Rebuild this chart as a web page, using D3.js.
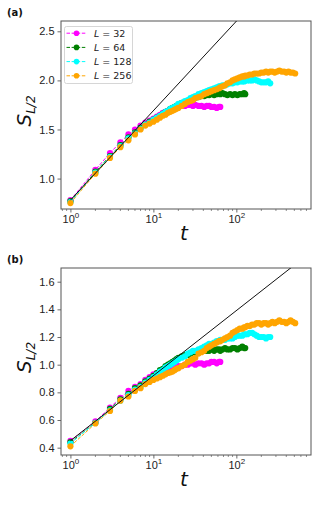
<!DOCTYPE html>
<html>
<head>
<meta charset="utf-8">
<script src="https://cdn.jsdelivr.net/npm/d3@7"></script>
<style>
  body { margin: 0; background: #fff; }
  svg { font-family: "DejaVu Sans", sans-serif; }
</style>
</head>
<body>
<svg id="chart" width="323" height="506"></svg>
<script>
// time steps shared by all series; each L uses the steps up to t = 2L
const tSteps = [1,2,3,4,5,6,7,8,9,10,11,12,13,14,15,16,17,18,19,20,
  22,24,26,28,30,32,35,38,41,44,47,50,54,58,62,64,
  68,73,78,84,90,96,103,110,118,124,128,
  136,145,155,165,176,188,200,214,228,242,256,
  272,290,310,330,352,376,400,425,450,480,512];

const sizes = [32, 64, 128, 256];
const colors = ['#ff00ff', '#008000', '#00ffff', '#ffa500'];

// panel (a)
const a32 = [0.78,1.09,1.26,1.37,1.45,1.50,1.54,1.57,1.59,1.61,1.63,1.65,1.67,1.68,1.69,1.70,1.71,1.72,1.72,1.73,
  1.74,1.74,1.75,1.75,1.74,1.75,1.74,1.74,1.73,1.74,1.74,1.73,1.73,1.72,1.73,1.73];
const a64 = [0.77,1.07,1.23,1.34,1.42,1.47,1.52,1.55,1.58,1.60,1.62,1.64,1.66,1.68,1.69,1.71,1.72,1.73,1.74,1.75,
  1.77,1.78,1.79,1.80,1.81,1.82,1.83,1.84,1.84,1.85,1.85,1.86,1.85,1.86,1.87,1.86,
  1.87,1.86,1.85,1.86,1.85,1.86,1.85,1.86,1.86,1.87,1.86];
const a128 = [0.76,1.06,1.22,1.33,1.41,1.46,1.51,1.55,1.57,1.60,1.62,1.64,1.66,1.68,1.69,1.71,1.72,1.73,1.74,1.76,
  1.77,1.79,1.80,1.82,1.83,1.84,1.86,1.87,1.88,1.89,1.90,1.91,1.92,1.93,1.94,1.94,
  1.95,1.95,1.96,1.97,1.97,1.98,1.98,1.99,1.99,1.99,2.00,
  2.00,2.00,2.00,2.01,2.00,1.99,1.98,1.98,1.98,1.99,1.97];
const a256 = [0.75,1.05,1.21,1.32,1.39,1.45,1.50,1.54,1.56,1.58,1.60,1.62,1.64,1.65,1.67,1.68,1.69,1.70,1.71,1.72,
  1.74,1.76,1.78,1.79,1.80,1.82,1.83,1.84,1.86,1.87,1.88,1.89,1.90,1.91,1.92,1.93,
  1.94,1.95,1.97,1.98,2.00,2.01,2.02,2.03,2.04,2.04,2.05,
  2.05,2.06,2.06,2.07,2.07,2.07,2.08,2.08,2.09,2.08,2.09,
  2.09,2.08,2.09,2.10,2.09,2.09,2.08,2.09,2.08,2.08,2.07];

// panel (b)
const b32 = [0.45,0.59,0.69,0.76,0.81,0.84,0.86,0.89,0.91,0.93,0.94,0.95,0.96,0.97,0.98,0.98,0.99,0.99,0.99,0.99,
  0.99,1.00,1.00,1.01,1.01,1.00,1.01,1.01,1.00,1.01,1.01,1.02,1.02,1.01,1.02,1.02];
const b64 = [0.44,0.58,0.68,0.75,0.79,0.83,0.85,0.88,0.90,0.92,0.94,0.96,0.97,0.99,1.00,1.01,1.02,1.03,1.04,1.05,
  1.06,1.07,1.07,1.08,1.09,1.09,1.10,1.10,1.10,1.10,1.10,1.11,1.10,1.11,1.11,1.10,
  1.11,1.12,1.11,1.11,1.12,1.12,1.11,1.12,1.13,1.12,1.12];
const b128 = [0.43,0.58,0.67,0.74,0.78,0.82,0.84,0.87,0.89,0.91,0.93,0.95,0.96,0.98,0.99,1.00,1.01,1.02,1.03,1.04,
  1.05,1.06,1.08,1.09,1.10,1.10,1.11,1.12,1.13,1.14,1.15,1.15,1.16,1.17,1.17,1.18,
  1.18,1.18,1.19,1.19,1.19,1.20,1.21,1.21,1.21,1.22,1.22,
  1.22,1.23,1.23,1.22,1.21,1.20,1.20,1.20,1.19,1.20,1.20];
const b256 = [0.41,0.575,0.665,0.74,0.77,0.81,0.83,0.86,0.875,0.89,0.90,0.91,0.92,0.93,0.94,0.945,0.95,0.96,0.97,0.975,
  0.99,1.00,1.02,1.03,1.04,1.05,1.08,1.09,1.10,1.12,1.13,1.14,1.15,1.16,1.17,1.17,
  1.18,1.19,1.20,1.21,1.23,1.24,1.25,1.26,1.26,1.27,1.27,
  1.28,1.28,1.29,1.29,1.30,1.30,1.29,1.30,1.30,1.29,1.30,
  1.31,1.30,1.31,1.32,1.31,1.31,1.30,1.31,1.32,1.31,1.30];

// straight reference lines (log-linear growth)
const fitT = [1, 500];
const fitA = [0.78, 3.24];
const fitB = [0.45, 1.72];

const yTicksA = [1.0, 1.5, 2.0, 2.5];
const yTicksB = [0.4, 0.6, 0.8, 1.0, 1.2, 1.4, 1.6];
const xTicks = [1, 10, 100];

const svg = d3.select('#chart');

function drawPanel(opts) {
  const { top, bottom, yDomain, yTicks, yFormat, series, fit, tag, legend, id } = opts;
  const left = 61, right = 311;

  const x = d3.scaleLog().domain([0.77, 794]).range([left, right]);
  const y = d3.scaleLinear().domain(yDomain).range([bottom, top]);

  const g = svg.append('g');

  g.append('clipPath').attr('id', id)
    .append('rect').attr('x', left).attr('y', top)
    .attr('width', right - left).attr('height', bottom - top);

  // axes
  const xAxis = g.append('g')
    .attr('transform', `translate(0,${bottom})`)
    .call(d3.axisBottom(x).tickValues(xTicks).tickSize(3.5).tickPadding(3).tickFormat(() => ''));
  xAxis.selectAll('.tick text').each(function (d) {
    const t = d3.select(this);
    t.text('10').attr('font-size', 11).attr('fill', '#222');
    t.append('tspan').text(Math.round(Math.log10(d)))
      .attr('font-size', 8).attr('dy', -5);
  });
  const minor = [];
  for (let e = -1; e <= 2; e++) for (let m = 2; m <= 9; m++) {
    const v = m * Math.pow(10, e);
    if (v >= 0.77 && v <= 794) minor.push(v);
  }
  g.append('g').selectAll('line').data(minor).enter().append('line')
    .attr('x1', d => x(d)).attr('x2', d => x(d))
    .attr('y1', bottom).attr('y2', bottom + 2)
    .attr('stroke', '#444').attr('stroke-width', 0.6);

  const yAxis = g.append('g')
    .attr('transform', `translate(${left},0)`)
    .call(d3.axisLeft(y).tickValues(yTicks).tickSize(3.5).tickPadding(3).tickFormat(yFormat));
  yAxis.selectAll('.tick text').attr('font-size', 11).attr('fill', '#222');

  [xAxis, yAxis].forEach(ax => {
    ax.select('.domain').remove();
    ax.selectAll('.tick line').attr('stroke', '#444').attr('stroke-width', 0.8);
  });

  g.append('rect')
    .attr('x', left).attr('y', top)
    .attr('width', right - left).attr('height', bottom - top)
    .attr('fill', 'none').attr('stroke', '#555').attr('stroke-width', 1);

  const plot = g.append('g').attr('clip-path', `url(#${id})`);

  // series: dashed line + round markers
  const line = d3.line().x(d => x(d[0])).y(d => y(d[1]));
  series.forEach((vals, i) => {
    const pts = vals.map((v, k) => [tSteps[k], v]);
    plot.append('path')
      .attr('d', line(pts))
      .attr('fill', 'none')
      .attr('stroke', colors[i])
      .attr('stroke-width', 1)
      .attr('stroke-dasharray', '3.5,1.6');
    plot.append('g').selectAll('circle')
      .data(pts).enter().append('circle')
      .attr('cx', d => x(d[0]))
      .attr('cy', d => y(d[1]))
      .attr('r', 3.1)
      .attr('fill', colors[i]);
  });

  plot.append('path')
    .attr('d', line(fitT.map((t, k) => [t, fit[k]])))
    .attr('fill', 'none').attr('stroke', '#111').attr('stroke-width', 1);

  // axis labels
  const yl = g.append('text')
    .attr('transform', `translate(31,${(top + bottom) / 2 - 4}) rotate(-90)`)
    .attr('text-anchor', 'middle')
    .attr('font-size', 20).attr('fill', '#111');
  yl.append('tspan').text('S').attr('font-style', 'italic');
  yl.append('tspan').text('L/2').attr('font-style', 'italic').attr('font-size', 12).attr('dy', 4);

  g.append('text')
    .attr('x', 184).attr('y', bottom + 31)
    .attr('text-anchor', 'middle')
    .attr('font-size', 20).attr('font-style', 'italic').attr('fill', '#111')
    .text('t');

  g.append('text')
    .attr('x', 7).attr('y', top - 5)
    .attr('font-size', 10).attr('font-weight', 'bold').attr('fill', '#111')
    .text(tag);

  if (legend) {
    const lg = g.append('g');
    lg.append('rect')
      .attr('x', 64.5).attr('y', 26.5).attr('width', 68).attr('height', 57)
      .attr('rx', 2).attr('fill', 'rgba(255,255,255,0.8)')
      .attr('stroke', '#ccc').attr('stroke-width', 0.8);
    sizes.forEach((L, i) => {
      const ry = 33.2 + i * 14.2;
      lg.append('line')
        .attr('x1', 66.5).attr('x2', 86.5).attr('y1', ry).attr('y2', ry)
        .attr('stroke', colors[i]).attr('stroke-width', 1)
        .attr('stroke-dasharray', '3.5,1.6');
      lg.append('circle').attr('cx', 76.5).attr('cy', ry).attr('r', 2.8).attr('fill', colors[i]);
      const tx = lg.append('text').attr('x', 94).attr('y', ry + 3.6)
        .attr('font-size', 9.5).attr('fill', '#222');
      tx.append('tspan').text('L').attr('font-style', 'italic');
      tx.append('tspan').text(' = ' + L);
    });
  }
}

drawPanel({
  id: 'clipA', top: 21, bottom: 209, yDomain: [0.69, 2.605],
  yTicks: yTicksA, yFormat: d3.format('.1f'),
  series: [a32, a64, a128, a256], fit: fitA, tag: '(a)', legend: true
});

drawPanel({
  id: 'clipB', top: 268, bottom: 455, yDomain: [0.347, 1.699],
  yTicks: yTicksB, yFormat: d3.format('.1f'),
  series: [b32, b64, b128, b256], fit: fitB, tag: '(b)', legend: false
});
</script>
</body>
</html>
